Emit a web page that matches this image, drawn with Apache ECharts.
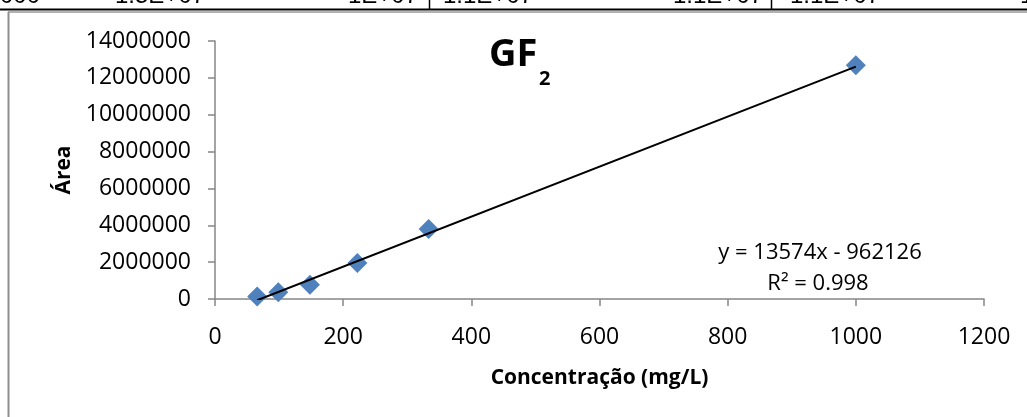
<!DOCTYPE html>
<html>
<head>
<meta charset="utf-8">
<script src="https://cdn.jsdelivr.net/npm/echarts@6/dist/echarts.min.js"></script>
<style>
  html, body { margin: 0; padding: 0; background: #fff; }
  #chart { width: 1027px; height: 417px; }
</style>
</head>
<body>
<div id="chart"></div>
<script>
// Calibration points: concentration (mg/L) and peak area
const concentration = [65.84, 98.77, 148.15, 222.22, 333.33, 1000];
const area = [140000, 360000, 780000, 1955000, 3800000, 12680000];

// Linear fit as reported on the chart
const slope = 13574;
const intercept = -962126;
const r2 = 0.998;

// Bottom edge of the spreadsheet row above the chart
const rowCells = [
  { text: '000', x: 0 },
  { text: '1.5E+07', x: 115 },
  { text: '1E+07', x: 348 },
  { text: '1.1E+07', x: 443 },
  { text: '1.1E+07', x: 673 },
  { text: '1.1E+07', x: 790 },
  { text: '1', x: 1020 }
];

const FONT = "'Open Sans', 'Liberation Sans', sans-serif";

const points = concentration.map((c, i) => [c, area[i]]);
const xMin = Math.min(...concentration);
const xMax = Math.max(...concentration);
const trend = [xMin, xMax].map(x => [x, slope * x + intercept]);

const chart = echarts.init(document.getElementById('chart'), null, { renderer: 'canvas' });

const rowGraphics = rowCells.map(c => ({
  type: 'text',
  x: c.x,
  y: 8,
  z: 1,
  style: {
    text: c.text,
    font: "24px 'Liberation Sans', sans-serif",
    fill: '#000',
    align: 'left',
    verticalAlign: 'bottom'
  },
  silent: true
}));

const plain = v => String(v);

chart.setOption({
  backgroundColor: '#fff',
  animation: false,
  grid: { left: 215, right: 43, top: 41, bottom: 118, containLabel: false },
  xAxis: {
    type: 'value',
    min: 0,
    max: 1200,
    interval: 200,
    name: 'Concentração (mg/L)',
    nameLocation: 'middle',
    nameGap: 69,
    nameTextStyle: { fontFamily: FONT, fontSize: 21, fontWeight: 'bold', color: '#000' },
    axisLine: { show: true, lineStyle: { color: '#868686', width: 1.5 } },
    axisTick: { show: true, inside: false, length: 7, lineStyle: { color: '#868686', width: 1.5 } },
    axisLabel: { fontFamily: FONT, fontSize: 23, color: '#000', margin: 27, formatter: plain },
    splitLine: { show: false }
  },
  yAxis: {
    type: 'value',
    min: 0,
    max: 14000000,
    interval: 2000000,
    name: 'Área',
    nameLocation: 'middle',
    nameRotate: 90,
    nameGap: 137,
    nameTextStyle: { fontFamily: FONT, fontSize: 21, fontWeight: 'bold', color: '#000' },
    axisLine: { show: true, lineStyle: { color: '#868686', width: 1.5 } },
    axisTick: { show: true, inside: false, length: 7, lineStyle: { color: '#868686', width: 1.5 } },
    axisLabel: { fontFamily: FONT, fontSize: 23, color: '#000', margin: 24, formatter: plain },
    splitLine: { show: false }
  },
  series: [
    {
      name: 'Linear',
      type: 'line',
      data: trend,
      symbol: 'none',
      lineStyle: { color: '#000', width: 2 },
      z: 3
    },
    {
      name: 'GF2',
      type: 'scatter',
      data: points,
      symbol: 'diamond',
      symbolSize: 20,
      itemStyle: { color: '#4F81BD', opacity: 1 },
      z: 2
    }
  ],
  graphic: [
    ...rowGraphics,
    { type: 'rect', shape: { x: 0, y: 10.5, width: 1027, height: 8 }, style: { fill: '#fff' }, z: 2, silent: true },
    { type: 'line', shape: { x1: 0, y1: 9.5, x2: 1027, y2: 9.5 }, style: { stroke: '#000', lineWidth: 2 }, z: 3, silent: true },
    { type: 'line', shape: { x1: 429.5, y1: 0, x2: 429.5, y2: 9 }, style: { stroke: '#000', lineWidth: 1.5 }, z: 3, silent: true },
    { type: 'line', shape: { x1: 771.5, y1: 0, x2: 771.5, y2: 9 }, style: { stroke: '#000', lineWidth: 1.5 }, z: 3, silent: true },
    { type: 'line', shape: { x1: 8, y1: 12, x2: 1027, y2: 12 }, style: { stroke: '#9a9a9a', lineWidth: 1.5 }, z: 3, silent: true },
    { type: 'line', shape: { x1: 8.5, y1: 12, x2: 8.5, y2: 417 }, style: { stroke: '#8f8f8f', lineWidth: 2 }, z: 3, silent: true },
    {
      type: 'text', left: 489, top: 36,
      style: { text: 'GF', font: 'bold 38px ' + FONT, fill: '#000' }, silent: true
    },
    {
      type: 'text', left: 539, top: 69,
      style: { text: '2', font: 'bold 20px ' + FONT, fill: '#000' }, silent: true
    },
    {
      type: 'text', x: 820, y: 253,
      style: { text: 'y = ' + slope + 'x - ' + Math.abs(intercept), font: '22px ' + FONT, fill: '#000', align: 'center', verticalAlign: 'middle' },
      silent: true
    },
    {
      type: 'text', x: 818, y: 284,
      style: { text: 'R² = ' + r2, font: '22px ' + FONT, fill: '#000', align: 'center', verticalAlign: 'middle' },
      silent: true
    }
  ]
});
</script>
</body>
</html>
